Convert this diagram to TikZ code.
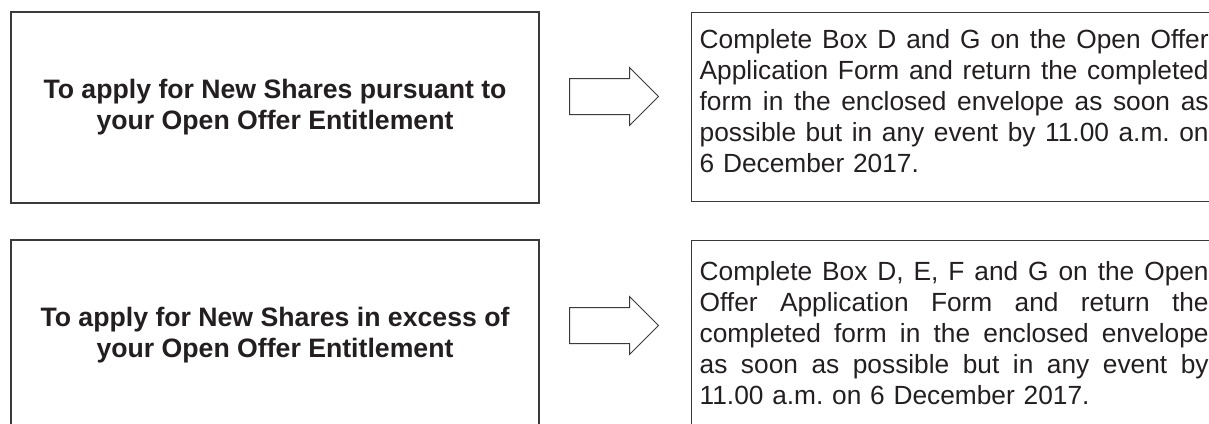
\documentclass[tikz,border=0pt]{standalone}
\usepackage{fontspec}
\setmainfont{Liberation Sans}
\usetikzlibrary{shapes.arrows}
\definecolor{ink}{HTML}{231F20}
\definecolor{rule}{HTML}{3A3A3A}
\newcommand{\fillline}[1]{\hbox to 509pt{\spaceskip=\fontdimen2\font plus 1fil\relax #1}}
\frenchspacing

\begin{document}
\begin{tikzpicture}
      [x = 1pt, y = -1pt,
      box/.style= {
         draw = rule,
         line width = 1.3pt,
         rectangle,
         inner sep = 0pt,
         text = ink,
         font = \fontsize{26.3}{31}\selectfont
      },
      question/.style= {
         box,
         minimum width = 528pt,
         minimum height = 191pt,
         align = center,
         font = \fontsize{26.65}{31}\selectfont\bfseries
      },
      answer/.style= {
         box,
         anchor = north west,
         inner xsep = 8pt,
         text width = 530pt,
         minimum height = 189pt,
         align = left
      },
      blockarrow/.style= {
         draw = rule,
         line width = 1pt,
         single arrow,
         anchor = tail,
         inner xsep = 0pt,
         inner ysep = 17.5pt,
         minimum width = 0pt,
         minimum height = 89pt,
         single arrow head extend = 11pt
      }]

      \useasboundingbox (0, 0) rectangle (1209, 423);
      \clip (0, 0) rectangle (1209, 423);

      % first row
      \node[question] (entitlement) at (275, 107.5)
         {To apply for New Shares pursuant to\\your Open Offer Entitlement};
      \node[blockarrow] (arrowA) at (569, 96.5) {};
      \node[answer] (boxesDG) at (691, 12)
         {\fillline{Complete Box D and G on the Open Offer}
          \fillline{Application Form and return the completed}
          \fillline{form in the enclosed envelope as soon as}
          \fillline{possible but in any event by 11.00 a.m. on}
          6 December 2017.\rule[-12pt]{0pt}{0pt}};

      % second row
      \node[question] (excess) at (275, 335.5)
         {To apply for New Shares in excess of\\your Open Offer Entitlement};
      \node[blockarrow] (arrowB) at (569, 325.5) {};
      \node[answer] (boxesDEFG) at (691, 240)
         {\fillline{Complete Box D, E, F and G on the Open}
          \fillline{Offer Application Form and return the}
          \fillline{completed form in the enclosed envelope}
          \fillline{as soon as possible but in any event by}
          11.00 a.m. on 6 December 2017.\rule[-4pt]{0pt}{0pt}};

   \end{tikzpicture}
\end{document}
